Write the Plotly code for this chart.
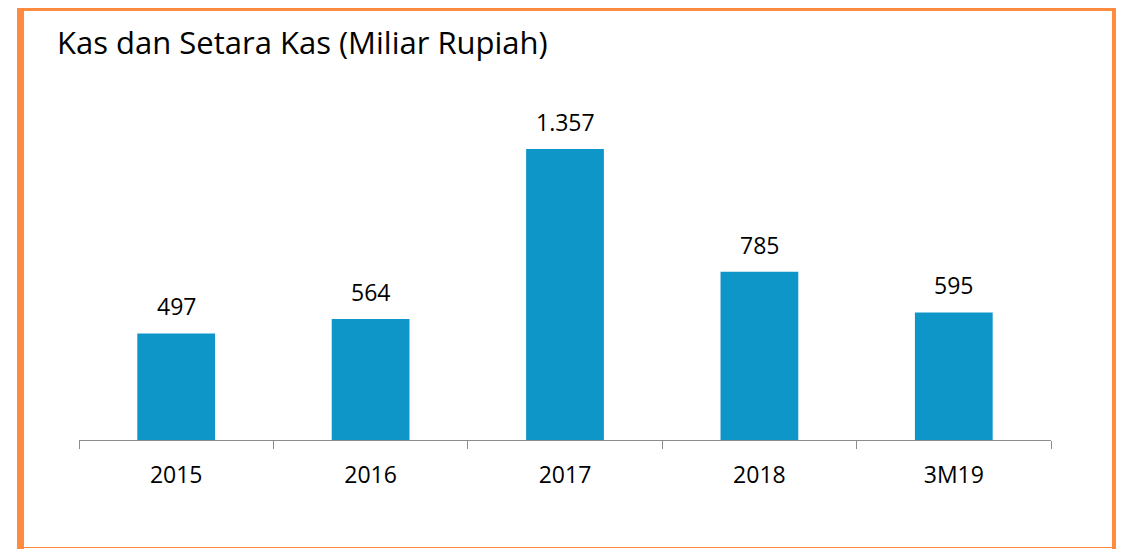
import plotly.graph_objects as go

years = ["2015", "2016", "2017", "2018", "3M19"]
values = [497, 564, 1357, 785, 595]
labels = ["497", "564", "1.357", "785", "595"]

# page has 8px body margin, so the figure starts at (8, 8) on screen
OFF = 8
W, H = 1116, 541
L, T = 71, 89
pw, ph = 972, 343
R, B = W - L - pw, H - T - ph


def px(x):
    return (x - OFF - L) / pw


def py(y):
    return (T + ph - (y - OFF)) / ph


fig = go.Figure(go.Bar(
    x=years, y=values,
    marker=dict(color="#0F96C8", line=dict(width=0)),
    width=0.4, hoverinfo="x+y",
))

# value labels above bars (x given as category index so "2015" isn't read as a number)
anns = []
for i, (v, lab) in enumerate(zip(values, labels)):
    anns.append(dict(x=i, y=v, text=lab, showarrow=False, yanchor="middle", yshift=27,
                     font=dict(size=23, color="#000000", family="Open Sans")))

anns.append(dict(text="Kas dan Setara Kas (Miliar Rupiah)", xref="paper", yref="paper",
                 x=px(55), y=py(42), xanchor="left", yanchor="middle", showarrow=False,
                 font=dict(size=31, color="#000000", family="Open Sans")))

orange = "#FF8B40"
shapes = []
for x0, y0, x1, y1 in [(17, 8, 1116, 11), (17, 8, 24, 549), (1112, 8, 1116, 549), (17, 547, 1116, 548)]:
    shapes.append(dict(type="rect", xref="paper", yref="paper",
                       x0=px(x0), x1=px(x1), y0=py(y0), y1=py(y1),
                       fillcolor=orange, line=dict(width=0), layer="above"))

fig.update_layout(
    width=W, height=H,
    margin=dict(l=L, r=R, t=T, b=B),
    plot_bgcolor="white", paper_bgcolor="white",
    showlegend=False,
    shapes=shapes,
    annotations=anns,
    font=dict(family="Open Sans"),
)
fig.update_xaxes(type="category", showline=True, linecolor="#8C8C8C", linewidth=1, ticks="outside",
                 tickson="boundaries", ticklen=8, tickcolor="#8C8C8C",
                 ticklabelstandoff=14,
                 tickfont=dict(size=23, color="#000000"), showgrid=False)
fig.update_yaxes(range=[0, 1600], visible=False, showgrid=False)

fig.write_html("out.html")
